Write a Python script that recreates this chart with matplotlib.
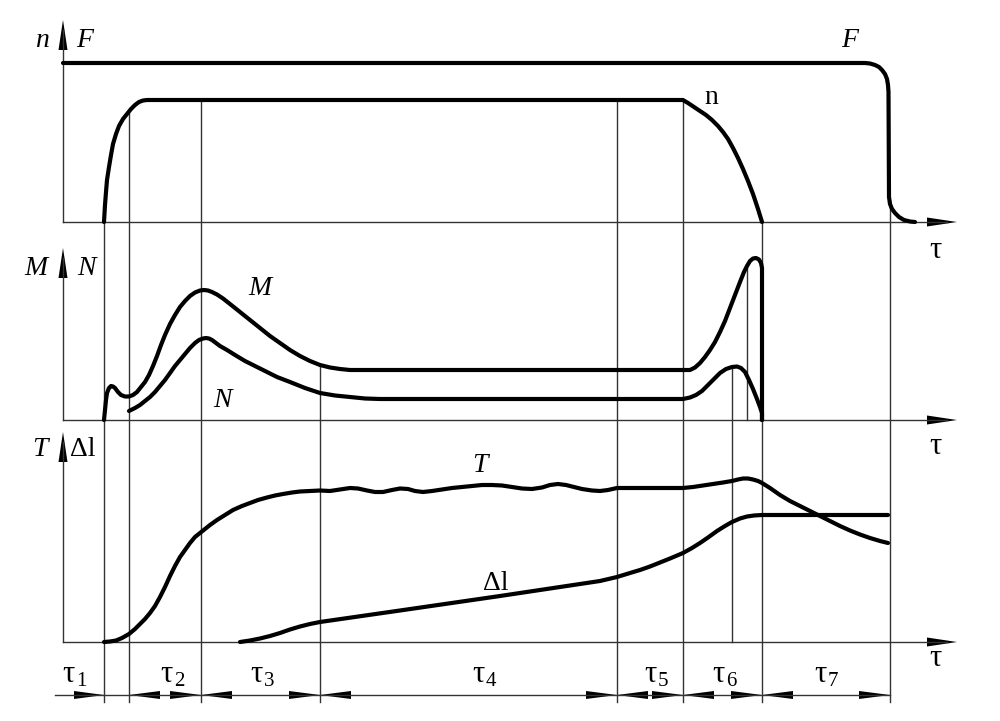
import matplotlib.pyplot as plt

plt.rcParams['font.family'] = ['Liberation Serif', 'DejaVu Serif']

# phase boundaries on the time axis and where each guide line starts
tau_edges = [104, 129, 201, 320, 617, 683, 762, 890]
guide_top = [222, 113, 100, 367, 100, 100, 222, 200]
extra_guides = [(732, 367, 642), (747, 267, 420)]
tau_subs = ['1', '2', '3', '4', '5', '6', '7']
tau_label_x = [68, 166, 256, 478, 650, 718, 820]

# top panel: F and n
F_t = [63, 865, 870, 875, 879, 882, 885, 887, 888, 888.5, 889, 890, 892, 895,
       899, 904, 910, 915]
F_v = [63, 63, 63.5, 65, 67, 70, 74, 79, 85, 92, 197, 204, 209, 213,
       217, 220, 221.5, 222]
n_t = [104, 105, 106, 107, 109, 111, 113, 116, 119, 123, 127, 131, 135, 139,
       143, 147, 683, 688, 694, 700, 706, 712, 718, 723, 728, 733, 738, 743,
       748, 753, 758, 762]
n_v = [222, 205, 192, 180, 167, 155, 144, 134, 126, 119, 114, 109, 105, 102,
       100.5, 100, 100, 103, 107, 111, 115, 120, 126, 132, 139, 148, 158, 169,
       181, 194, 209, 222]

# middle panel: M and N
M_t = [104, 105, 106, 107, 109, 111, 113, 115, 118, 121, 125, 129, 133, 137,
       141, 145, 149, 153, 157, 161, 165, 170, 175, 180, 185, 190, 195, 200,
       204, 208, 212, 217, 223, 230, 240, 250, 260, 270, 280, 290, 300, 310,
       320, 330, 340, 350, 690, 695, 700, 705, 710, 715, 720, 725, 730, 735,
       740, 744, 747, 750, 753, 756, 759, 761, 762, 762]
M_v = [420, 410, 400, 393, 388, 386, 386.5, 388, 392, 395, 396.5, 396.5, 395,
       392, 387, 382, 375, 366, 356, 345, 335, 324, 315, 307, 301, 296, 292.5,
       290.5, 290, 290.5, 292, 294.5, 298.5, 304, 312, 320, 328, 336, 343, 350,
       356, 361, 365, 367.5, 369, 370, 370, 367.5, 363, 357, 350, 342, 332, 321,
       308, 295, 282, 272, 266, 261, 258.5, 258, 259.5, 263, 268, 420]
N_t = [129, 135, 140, 145, 150, 155, 160, 165, 170, 175, 180, 185, 190, 195,
       199, 203, 206, 209, 212, 216, 220, 227, 235, 245, 255, 265, 277, 290,
       305, 320, 335, 350, 365, 380, 683, 690, 696, 702, 708, 714, 720, 726,
       732, 737, 741, 745, 749, 753, 757, 760, 762, 762]
N_v = [411, 408, 405, 401, 397, 392, 386, 380, 373, 366, 360, 354, 348, 343,
       340, 338.5, 338, 338.5, 340, 343, 346, 350, 355, 361, 366, 371, 377, 382,
       388, 393, 395.5, 397, 398.5, 399, 399, 397.5, 395, 391, 385, 379, 373,
       369, 367, 366.5, 368, 372, 380, 389, 399, 407, 413, 420]

# bottom panel: T and dl
T_t = [104, 110, 116, 122, 129, 135, 140, 145, 150, 155, 160, 165, 170, 175,
       180, 185, 190, 195, 200, 205, 210, 217, 225, 233, 242, 250, 258, 267,
       275, 283, 292, 300, 310, 320, 330, 340, 350, 358, 367, 375, 383, 392,
       400, 408, 415, 423, 432, 442, 452, 462, 472, 482, 492, 502, 512, 522,
       532, 542, 550, 558, 566, 574, 582, 592, 600, 608, 617, 683, 693, 703,
       713, 723, 732, 738, 743, 748, 753, 758, 762, 770, 780, 790, 800, 810,
       820, 830, 840, 850, 860, 870, 880, 888]
T_v = [642, 641.5, 640.5, 638, 634, 629, 624, 619, 613, 606, 597, 587, 576,
       566, 557, 550, 543, 537, 533, 529, 525, 520, 515, 510, 506, 503, 500,
       497.5, 495.5, 494, 492.5, 491.5, 491, 490.5, 491, 489.5, 488, 488.5,
       490.5, 492, 492, 490, 488.5, 489, 491, 492, 491, 489.5, 488, 487, 486,
       485, 485, 485.5, 487, 488.5, 489, 487.5, 485, 484, 485, 487, 489, 490.5,
       491, 490, 488, 488, 487, 485.5, 484, 482.5, 481, 479.5, 478.5, 478.5,
       479.5, 481, 483, 488, 495, 501, 506, 511, 516, 521, 526, 530.5, 534.5,
       538, 541, 543]
dl_t = [240, 250, 260, 270, 280, 290, 300, 310, 320, 400, 500, 550, 600, 617,
        630, 640, 650, 660, 670, 683, 692, 700, 708, 717, 725, 732, 740, 747,
        754, 762, 888]
dl_v = [642, 640.5, 638.5, 636, 633, 629.5, 626.5, 624, 622, 610.5, 596, 588.5,
        581, 577, 573, 570, 566.5, 562.5, 558.5, 553, 548, 543, 537.5, 531, 526,
        522, 518.5, 516.5, 515.5, 515, 515]

# axes of the three panels: (baseline y, top of y axis)
panels = [(222, 20), (420, 248), (642, 432)]
x_axis0 = 63
x_axis1 = 957
dim_y = 695

fig = plt.figure(figsize=(10, 7.21), dpi=100)
ax = fig.add_axes([0, 0, 1, 1])
ax.set_xlim(0, 1000)
ax.set_ylim(721, 0)
ax.axis('off')

thin = dict(color='#333333', lw=1.0)
thick = dict(color='black', lw=3.0, solid_capstyle='round', solid_joinstyle='round')


def arrow_head(tip_x, tip_y, direction, length=30, half=4.5):
    # narrow filled triangle, direction: 'up', 'right', 'left'
    if direction == 'up':
        xs = [tip_x, tip_x - half, tip_x + half]
        ys = [tip_y, tip_y + length, tip_y + length]
    elif direction == 'right':
        xs = [tip_x, tip_x - length, tip_x - length]
        ys = [tip_y, tip_y - half, tip_y + half]
    else:
        xs = [tip_x, tip_x + length, tip_x + length]
        ys = [tip_y, tip_y - half, tip_y + half]
    ax.fill(xs, ys, color='black', lw=0)


for base, top in panels:
    ax.plot([x_axis0, x_axis0], [base, top + 10], **thin)
    ax.plot([x_axis0, x_axis1 - 10], [base, base], **thin)
    arrow_head(x_axis0, top, 'up')
    arrow_head(x_axis1, base, 'right')

for x, y0 in zip(tau_edges, guide_top):
    ax.plot([x, x], [y0, 702], **thin)
for x, y0, y1 in extra_guides:
    ax.plot([x, x], [y0, y1], **thin)

ax.plot(F_t, F_v, **thick)
ax.plot(n_t, n_v, **thick)
ax.plot(M_t, M_v, **thick)
ax.plot(N_t, N_v, **thick)
ax.plot(T_t, T_v, **thick)
ax.plot(dl_t, dl_v, **thick)

# dimension line with the phase arrows
ax.plot([55, tau_edges[-1]], [dim_y, dim_y], **thin)
arrow_head(tau_edges[0], dim_y, 'right', length=30, half=4)
for a, b in zip(tau_edges[1:-1], tau_edges[2:]):
    arrow_head(a, dim_y, 'left', length=31, half=4)
    arrow_head(b, dim_y, 'right', length=31, half=4)

fs = 20
ax.text(42, 47, 'n', fontsize=fs, style='italic', ha='center', va='baseline')
ax.text(85, 47, 'F', fontsize=fs, style='italic', ha='center', va='baseline')
ax.text(850, 47, 'F', fontsize=fs, style='italic', ha='center', va='baseline')
ax.text(711, 104, 'n', fontsize=fs, ha='center', va='baseline')
ax.text(36, 275, 'M', fontsize=fs, style='italic', ha='center', va='baseline')
ax.text(86, 275, 'N', fontsize=fs, style='italic', ha='center', va='baseline')
ax.text(260, 295, 'M', fontsize=fs, style='italic', ha='center', va='baseline')
ax.text(222, 407, 'N', fontsize=fs, style='italic', ha='center', va='baseline')
ax.text(40, 456, 'T', fontsize=fs, style='italic', ha='center', va='baseline')
ax.text(83, 456, 'Δl', fontsize=fs, ha='center', va='baseline')
ax.text(480, 472, 'T', fontsize=fs, style='italic', ha='center', va='baseline')
ax.text(496, 590, 'Δl', fontsize=fs, ha='center', va='baseline')
for y in [258, 454, 666]:
    ax.text(935, y, 'τ', fontsize=22, ha='center', va='baseline')

for x, s in zip(tau_label_x, tau_subs):
    ax.text(x, 682, 'τ', fontsize=22, ha='center', va='baseline')
    ax.text(x + 8, 686, s, fontsize=15, ha='left', va='baseline')

fig.savefig('out.png', dpi=100)
